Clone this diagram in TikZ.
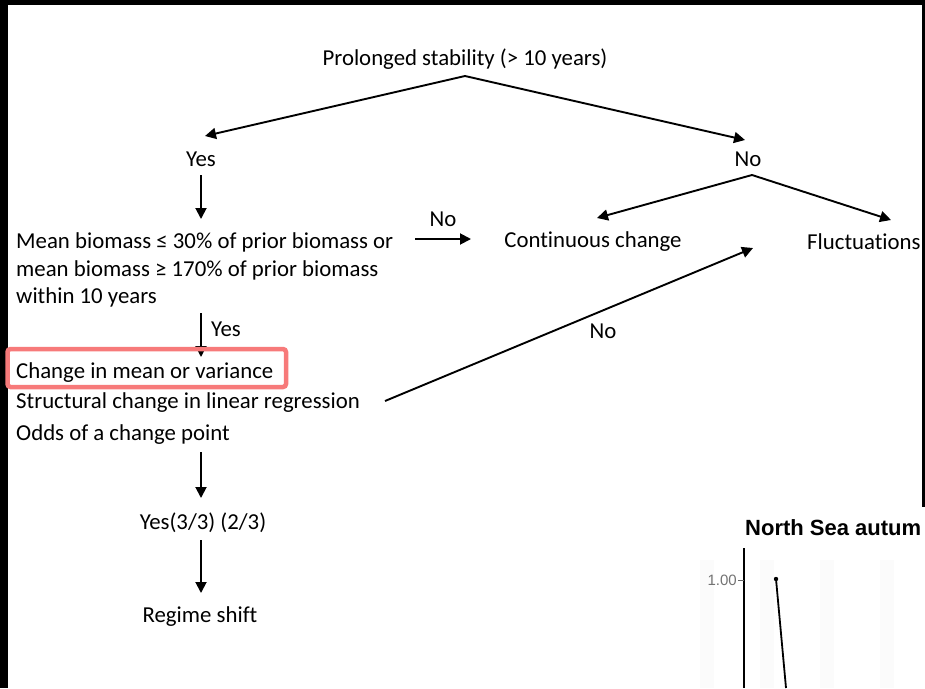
\documentclass[tikz,border=0pt]{standalone}
\usepackage{fontspec}
\setmainfont{Carlito}[Ligatures=NoCommon]
\newfontfamily\chartfont{Liberation Sans}
\usetikzlibrary{arrows.meta}
\definecolor{boxred}{HTML}{F77A7A}
\tikzset{
  lbl/.style={inner sep=0pt, yshift=-2pt, font=\fontsize{22.8}{26}\selectfont, text=black},
  lbll/.style={lbl, anchor=west},
  arr/.style={line width=1.9pt, -{Triangle[length=11pt,width=11pt]}},
}
\begin{document}
\begin{tikzpicture}[x=1pt,y=-1pt]
\useasboundingbox (0,0) rectangle (925,688);
\fill[black] (0,0) rectangle (925,688);
\fill[white] (8,5) rectangle (922,688);
% chart fragment
\fill[white] (665,507) rectangle (925,688);
\foreach \x in {700,760,820,880} \fill[black!1.5] (\x,560) rectangle (\x+14,688);
\node[inner sep=0pt, font=\chartfont\bfseries\fontsize{22}{26}\selectfont, anchor=west] (ctitle) at (745,528) {North Sea autum};
\coordinate (ax1) at (744,548);
\coordinate (ax2) at (744,688);
\draw[line width=1.8pt] (ax1) -- (ax2);
\coordinate (tk) at (738,580);
\draw[line width=1pt, black!60] (tk) -- (744,580);
\node[inner sep=0pt, anchor=east, font=\chartfont\fontsize{15}{17}\selectfont, text=black!55] (tick) at (737,580) {1.00};
\coordinate (p1) at (776,579);
\coordinate (p2) at (786,688);
\draw[line width=1.8pt] (p1) -- (p2);
\fill (p1) circle (2.2);

% nodes
\node[lbl] (top) at (465,57) {Prolonged stability (> 10 years)};
\node[lbl] (yes1) at (201,157) {Yes};
\node[lbl] (no1) at (748,157) {No};
\node[lbll] (m1) at (16,240) {Mean biomass ≤ 30\% of prior biomass or};
\node[lbll] (m2) at (16,268) {mean biomass ≥ 170\% of prior biomass};
\node[lbll] (m3) at (16,295) {within 10 years};
\node[lbl] (cont) at (593,240) {Continuous change};
\node[lbll] (fluc) at (807,240) {Fluctuat\kern0pt ions};
\node[lbll] (c1) at (16,371) {Change in mean or variance};
\node[lbll] (c2) at (16,401) {Structural change in linear regression};
\node[lbll] (c3) at (16,433) {Odds of a change point};
\node[lbl] (yes3) at (203,521) {Yes(3/3) (2/3)};
\node[lbl] (rs) at (200,615) {Regime shift};

% helper coordinates
\coordinate (topb) at (465,76);
\coordinate (yes1t) at (205,136);
\coordinate (no1t) at (745,140);
\coordinate (yes1b) at (201,175);
\coordinate (m1t) at (201,219);
\coordinate (noA) at (415,239);
\coordinate (noB) at (471,239);
\coordinate (no1b) at (752,175);
\coordinate (contT) at (597,218);
\coordinate (flucT) at (891,220);
\coordinate (m3b) at (201,313);
\coordinate (c1t) at (201,357);
\coordinate (c2r) at (385,401);
\coordinate (tgt) at (753,248);
\coordinate (c3b) at (201,452);
\coordinate (y3t) at (201,498);
\coordinate (y3b) at (201,540);
\coordinate (rst) at (201,593);

\draw[arr] (topb) -- (yes1t);
\draw[arr] (topb) -- (no1t);
\draw[arr] (yes1b) -- (m1t);
\draw[arr] (noA) -- node[lbl, above=13pt] (nolab1) {No} (noB);
\draw[arr] (no1b) -- (contT);
\draw[arr] (no1b) -- (flucT);
\draw[arr] (m3b) -- (c1t);
\node[lbl] (yes2) at (226,327) {Yes};
\draw[arr] (c2r) -- (tgt);
\node[lbl] (nolab2) at (603,329) {No};
\draw[arr] (c3b) -- (y3t);
\draw[arr] (y3b) -- (rst);

% red highlight box
\draw[boxred, line width=4.5pt, rounded corners=3pt] (7.5,349) rectangle (286,387);
\end{tikzpicture}
\end{document}
